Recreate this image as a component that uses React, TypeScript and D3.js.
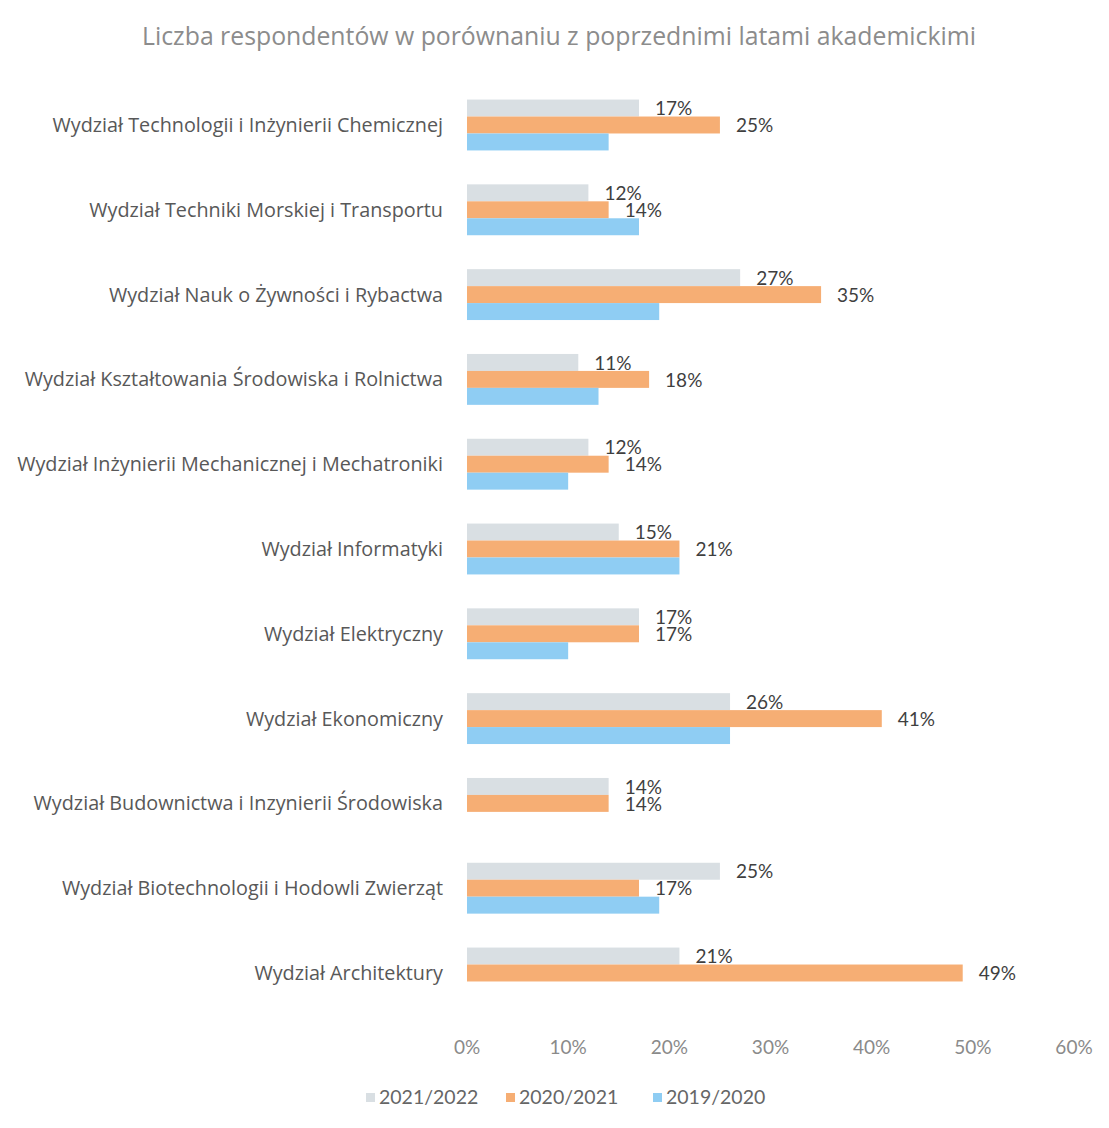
import { useEffect, useRef } from "react";
import * as d3 from "d3";

const categories: string[] = [
  "Wydział Technologii i Inżynierii Chemicznej",
  "Wydział Techniki Morskiej i Transportu",
  "Wydział Nauk o Żywności i Rybactwa",
  "Wydział Kształtowania Środowiska i Rolnictwa",
  "Wydział Inżynierii Mechanicznej i Mechatroniki",
  "Wydział Informatyki",
  "Wydział Elektryczny",
  "Wydział Ekonomiczny",
  "Wydział Budownictwa i Inzynierii Środowiska",
  "Wydział Biotechnologii i Hodowli Zwierząt",
  "Wydział Architektury",
];

const seriesNames: string[] = ["2021/2022", "2020/2021", "2019/2020"];
const values2122: number[] = [17, 12, 27, 11, 12, 15, 17, 26, 14, 25, 21];
const values2021: number[] = [25, 14, 35, 18, 14, 21, 17, 41, 14, 17, 49];
const values1920: number[] = [14, 17, 19, 13, 10, 21, 10, 26, 0, 19, 0];
const xTicks: number[] = [0, 10, 20, 30, 40, 50, 60];

const title = "Liczba respondentów w porównaniu z poprzednimi latami akademickimi";
const colors = ["#d9dfe3", "#f6ae74", "#8fcdf3"];
const showLabel = [true, true, false];

export default function App() {
  const svgRef = useRef<SVGSVGElement>(null);

  useEffect(() => {
    document.body.style.margin = "0";
    if (!svgRef.current) return;
    const W = 1109;
    const H = 1128;
    const font = "Lato, 'Open Sans', sans-serif";
    const wordFont = "'Open Sans', Lato, sans-serif";

    const svg = d3.select(svgRef.current).attr("width", W).attr("height", H);
    svg.selectAll("*").remove();
    svg.append("rect").attr("width", W).attr("height", H).attr("fill", "#ffffff");

    const x = d3.scaleLinear().domain([0, 60]).range([467, 1074]);
    const y = d3.scaleBand().domain(categories).range([82.6, 1015.4]).paddingInner(0.4).paddingOuter(0.2);
    const ySub = d3.scaleBand().domain(seriesNames).range([0, y.bandwidth()]).padding(0);

    const series = [values2122, values2021, values1920];

    // Title
    svg.append("text")
      .attr("x", 559).attr("y", 36).attr("dy", "0.35em")
      .attr("text-anchor", "middle")
      .attr("fill", "#8c8c8c").attr("font-size", "24.8px").attr("font-family", wordFont)
      .text(title);

    // Category labels
    svg.selectAll(".cat")
      .data(categories).enter().append("text")
      .attr("x", 443).attr("y", (d) => (y(d) ?? 0) + y.bandwidth() / 2)
      .attr("dy", "0.35em").attr("text-anchor", "end")
      .attr("fill", "#585858").attr("font-size", "19.8px").attr("font-family", wordFont)
      .text((d) => d);

    // Bars + labels
    series.forEach((vals, si) => {
      const g = svg.append("g");
      g.selectAll("rect")
        .data(categories.map((c, i) => ({ c, v: vals[i] })).filter((d) => d.v > 0))
        .enter().append("rect")
        .attr("x", x(0))
        .attr("y", (d) => (y(d.c) ?? 0) + (ySub(seriesNames[si]) ?? 0))
        .attr("width", (d) => x(d.v) - x(0))
        .attr("height", ySub.bandwidth())
        .attr("fill", colors[si]);

      if (showLabel[si]) {
        g.selectAll("text")
          .data(categories.map((c, i) => ({ c, v: vals[i] })).filter((d) => d.v > 0))
          .enter().append("text")
          .attr("x", (d) => x(d.v) + 16)
          .attr("y", (d) => (y(d.c) ?? 0) + (ySub(seriesNames[si]) ?? 0) + ySub.bandwidth() / 2)
          .attr("dy", "0.38em")
          .attr("fill", "#3f3f3f").attr("font-size", "19px").attr("font-family", font)
          .text((d) => `${d.v}%`);
      }
    });

    // X axis labels
    svg.selectAll(".tick-label")
      .data(xTicks).enter().append("text")
      .attr("x", (d) => x(d)).attr("y", 1047).attr("dy", "0.35em")
      .attr("text-anchor", "middle")
      .attr("fill", "#8a8a8a").attr("font-size", "19px").attr("font-family", font)
      .text((d) => `${d}%`);

    // Legend
    const legendX = [366, 506, 653];
    const leg = svg.append("g");
    seriesNames.forEach((name, i) => {
      leg.append("rect")
        .attr("x", legendX[i]).attr("y", 1093).attr("width", 9).attr("height", 9)
        .attr("fill", colors[i]);
      leg.append("text")
        .attr("x", legendX[i] + 13).attr("y", 1097).attr("dy", "0.35em")
        .attr("fill", "#666666").attr("font-size", "19.5px").attr("font-family", font)
        .text(name);
    });
  }, []);

  return <svg ref={svgRef} style={{ display: "block" }} />;
}
